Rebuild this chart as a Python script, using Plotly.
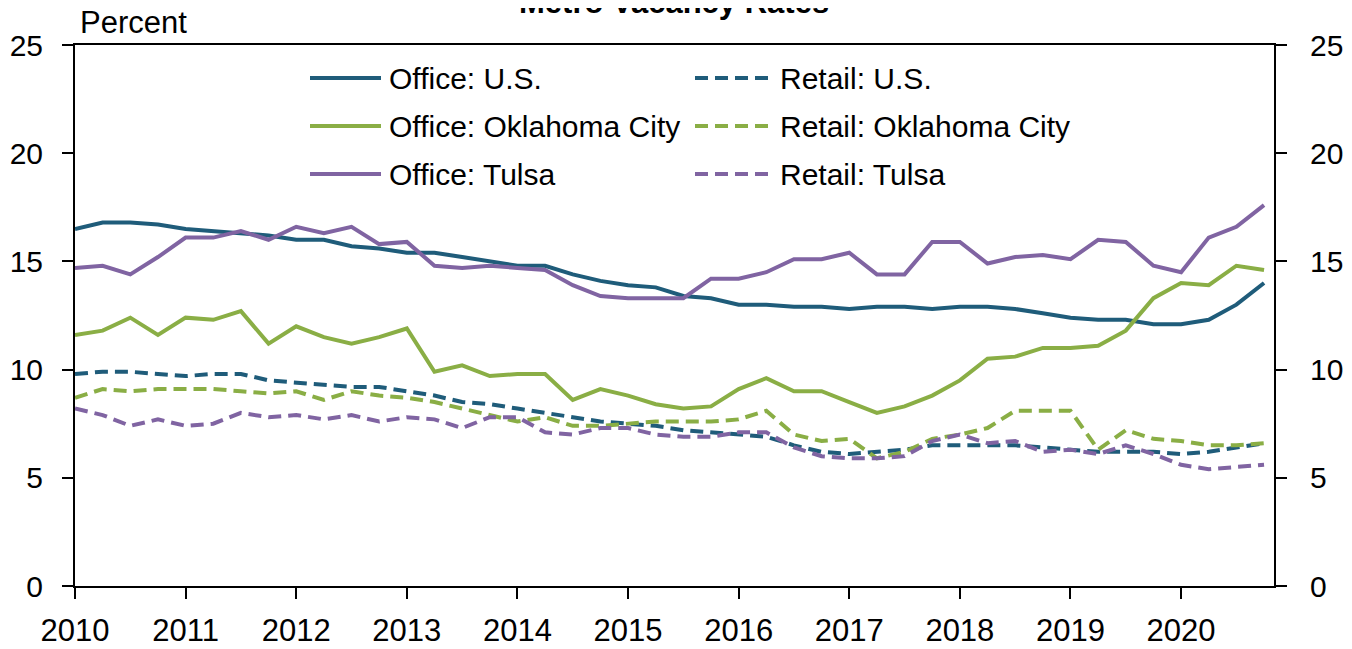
import plotly.graph_objects as go

quarters = [f"{y}Q{q}" for y in range(2010, 2021) for q in range(1, 5)]

office_us = [16.5, 16.8, 16.8, 16.7, 16.5, 16.4, 16.3, 16.2, 16.0, 16.0, 15.7, 15.6, 15.4, 15.4,
             15.2, 15.0, 14.8, 14.8, 14.4, 14.1, 13.9, 13.8, 13.4, 13.3, 13.0, 13.0, 12.9, 12.9,
             12.8, 12.9, 12.9, 12.8, 12.9, 12.9, 12.8, 12.6, 12.4, 12.3, 12.3, 12.1, 12.1, 12.3,
             13.0, 14.0]
office_okc = [11.6, 11.8, 12.4, 11.6, 12.4, 12.3, 12.7, 11.2, 12.0, 11.5, 11.2, 11.5, 11.9, 9.9,
              10.2, 9.7, 9.8, 9.8, 8.6, 9.1, 8.8, 8.4, 8.2, 8.3, 9.1, 9.6, 9.0, 9.0,
              8.5, 8.0, 8.3, 8.8, 9.5, 10.5, 10.6, 11.0, 11.0, 11.1, 11.8, 13.3, 14.0, 13.9,
              14.8, 14.6]
office_tulsa = [14.7, 14.8, 14.4, 15.2, 16.1, 16.1, 16.4, 16.0, 16.6, 16.3, 16.6, 15.8, 15.9, 14.8,
                14.7, 14.8, 14.7, 14.6, 13.9, 13.4, 13.3, 13.3, 13.3, 14.2, 14.2, 14.5, 15.1, 15.1,
                15.4, 14.4, 14.4, 15.9, 15.9, 14.9, 15.2, 15.3, 15.1, 16.0, 15.9, 14.8, 14.5, 16.1,
                16.6, 17.6]
retail_us = [9.8, 9.9, 9.9, 9.8, 9.7, 9.8, 9.8, 9.5, 9.4, 9.3, 9.2, 9.2, 9.0, 8.8,
             8.5, 8.4, 8.2, 8.0, 7.8, 7.6, 7.5, 7.4, 7.2, 7.1, 7.0, 6.9, 6.5, 6.2,
             6.1, 6.2, 6.3, 6.5, 6.5, 6.5, 6.5, 6.4, 6.3, 6.2, 6.2, 6.2, 6.1, 6.2,
             6.4, 6.6]
retail_okc = [8.7, 9.1, 9.0, 9.1, 9.1, 9.1, 9.0, 8.9, 9.0, 8.6, 9.0, 8.8, 8.7, 8.5,
              8.2, 7.9, 7.6, 7.8, 7.4, 7.4, 7.5, 7.6, 7.6, 7.6, 7.7, 8.1, 7.0, 6.7,
              6.8, 5.9, 6.2, 6.8, 7.0, 7.3, 8.1, 8.1, 8.1, 6.3, 7.2, 6.8, 6.7, 6.5,
              6.5, 6.6]
retail_tulsa = [8.2, 7.9, 7.4, 7.7, 7.4, 7.5, 8.0, 7.8, 7.9, 7.7, 7.9, 7.6, 7.8, 7.7,
                7.3, 7.8, 7.8, 7.1, 7.0, 7.3, 7.3, 7.0, 6.9, 6.9, 7.1, 7.1, 6.4, 6.0,
                5.9, 5.9, 6.0, 6.7, 7.0, 6.6, 6.7, 6.2, 6.3, 6.1, 6.5, 6.1, 5.6, 5.4,
                5.5, 5.6]

series_names = ["Office: U.S.", "Office: Oklahoma City", "Office: Tulsa",
                "Retail: U.S.", "Retail: Oklahoma City", "Retail: Tulsa"]
series_values = [office_us, office_okc, office_tulsa, retail_us, retail_okc, retail_tulsa]
year_ticks = list(range(2010, 2021))
y_ticks = [0, 5, 10, 15, 20, 25]

TEAL = "#1F5C7A"
GREEN = "#8AAE45"
PURPLE = "#8064A2"
colors = [TEAL, GREEN, PURPLE, TEAL, GREEN, PURPLE]
dashes = ["solid", "solid", "solid", "13px,7px", "13px,7px", "13px,7px"]

x = [int(q[:4]) + (int(q[-1]) - 1) / 4 for q in quarters]

FONT = "Liberation Sans Narrow, Arial Narrow, Liberation Sans, Arial, sans-serif"

# page has an 8px body margin; work in page pixels and convert
OFF = 8
W, H = 1352 - OFF, 649 - OFF
PL, PR, PT, PB = 75, 1274, 45, 586  # plot area in page pixels
L, T = PL - OFF, PT - OFF
R = W + OFF - PR
B = H + OFF - PB
pw, ph = PR - PL, PB - PT

def px2paper(px, py):
    return (px - PL) / pw, (PB - py) / ph

fig = go.Figure()
for name, vals, c, d in zip(series_names, series_values, colors, dashes):
    fig.add_trace(go.Scatter(x=x, y=vals, mode="lines", name=name,
                             line=dict(color=c, width=4, dash=d), showlegend=False))
# invisible trace to activate the right axis
fig.add_trace(go.Scatter(x=[x[0]], y=[0], yaxis="y2", mode="lines",
                         line=dict(width=0), showlegend=False, hoverinfo="skip"))

# custom legend
cols = [(310, 381, 387), (695, 770, 778)]
rows = [78, 126, 174]
for i, (name, c, d) in enumerate(zip(series_names, colors, dashes)):
    col = cols[i // 3]
    ry = rows[i % 3]
    x0, y0 = px2paper(col[0], ry)
    x1, _ = px2paper(col[1], ry)
    tx, ty = px2paper(col[2], ry)
    fig.add_shape(type="line", xref="paper", yref="paper", x0=x0, x1=x1, y0=y0, y1=y0,
                  line=dict(color=c, width=4, dash=d))
    fig.add_annotation(xref="paper", yref="paper", x=tx, y=ty, text=name, showarrow=False,
                       xanchor="left", yanchor="middle", font=dict(size=30, color="black"))

pxp, pyp = px2paper(78, 42)
fig.add_annotation(xref="paper", yref="paper", x=pxp, y=pyp, text="Percent", showarrow=False,
                   xanchor="left", yanchor="bottom", font=dict(size=31, color="black"))

tx, ty = px2paper(674, 22)
fig.add_annotation(xref="paper", yref="paper", x=tx, y=ty, text="<b>Metro Vacancy Rates</b>",
                   showarrow=False, xanchor="center", yanchor="bottom",
                   font=dict(size=31, color="black"))

axis_common = dict(showgrid=False, zeroline=False, showline=True, linecolor="black",
                   linewidth=2, ticks="outside", ticklen=11, tickwidth=2, tickcolor="black",
                   tickfont=dict(size=31, color="black"), automargin=False)

fig.update_layout(
    width=W, height=H,
    margin=dict(l=L, r=R, t=T, b=B),
    plot_bgcolor="white", paper_bgcolor="white",
    font=dict(family=FONT, color="black"),
    xaxis=dict(range=[2010, 2020.84], tickvals=year_ticks, ticktext=[str(v) for v in year_ticks],
               mirror=True, ticklabelstandoff=5, **axis_common),
    yaxis=dict(range=[0, 25], tickvals=y_ticks, ticklabelstandoff=13,
               **{**axis_common, "tickfont": dict(size=30, color="black")}),
    yaxis2=dict(range=[0, 25], tickvals=y_ticks, overlaying="y", side="right",
                ticklabelstandoff=17, **{**axis_common, "tickfont": dict(size=30, color="black")}),
)

fig.write_html("out.html")
